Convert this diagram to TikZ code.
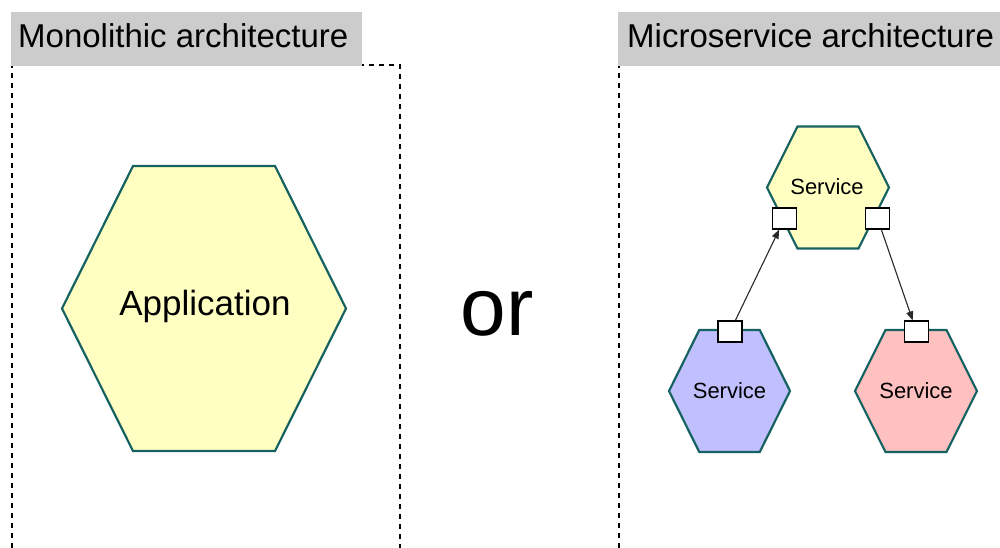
\documentclass[tikz,border=0pt]{standalone}
\usepackage{fontspec}
\setmainfont{Liberation Sans}
\usetikzlibrary{arrows.meta}

\definecolor{hexline}{RGB}{22,98,98}
\definecolor{hexyellow}{RGB}{255,255,194}
\definecolor{hexblue}{RGB}{192,192,255}
\definecolor{hexpink}{RGB}{255,192,192}
\definecolor{titlegray}{RGB}{204,204,204}
\definecolor{wire}{RGB}{40,40,40}

\tikzset{
  hexa/.style={draw=hexline, line width=2.2pt, line join=miter},
  frame/.style={draw=black, line width=1.2pt, dash pattern=on 5pt off 5pt},
  titlebox/.style={fill=titlegray, draw=none, inner sep=0pt, anchor=north west},
  titletext/.style={anchor=base west, inner sep=0pt, font=\fontsize{33}{39}\selectfont},
  svctext/.style={anchor=base, inner sep=0pt, font=\fontsize{22}{26}\selectfont},
  port/.style={draw=black, fill=white, line width=1.2pt, minimum width=24pt, minimum height=21pt, inner sep=0pt},
  link/.style={draw=wire, line width=1.1pt, -{Triangle[length=9pt,width=7pt]}}
}

% hexagon centred at (#1,#2), width #3, height #4
\newcommand{\hexpath}[4]{%
  ({#1-#3/2},#2) -- ({#1-#3/4},{#2-#4/2}) -- ({#1+#3/4},{#2-#4/2}) --
  ({#1+#3/2},#2) -- ({#1+#3/4},{#2+#4/2}) -- ({#1-#3/4},{#2+#4/2}) -- cycle}

\begin{document}
\begin{tikzpicture}[x=1pt, y=-1pt]
\useasboundingbox (0,0) rectangle (1000,548);

% ---- monolithic side ----
\draw[frame] (12,548) -- (12,65) -- (400,65) -- (400,548);
\node[titlebox, minimum width=351pt, minimum height=54pt] (monoBox) at (11,11.5) {};
\node[titletext] (monoTitle) at (18,48) {Monolithic architecture};

\draw[hexa, fill=hexyellow] \hexpath{204}{308.5}{284}{285};
\node[anchor=base, inner sep=0pt, font=\fontsize{35}{42}\selectfont] (app) at (205,315) {Application};

% ---- separator word ----
\node[anchor=base, inner sep=0pt, font=\fontsize{82}{96}\selectfont] (orWord) at (497,335) {or};

% ---- microservice side ----
\draw[frame] (619,548) -- (619,65);
\node[titlebox, minimum width=382pt, minimum height=54pt] (microBox) at (618,11.5) {};
\node[titletext] (microTitle) at (627,47.5) {Microservice architecture};

\draw[hexa, fill=hexyellow] \hexpath{828}{187.5}{122}{122};
\node[svctext] (svcTop) at (827,194) {Service};

\draw[hexa, fill=hexblue] \hexpath{729.5}{391}{121}{122};
\node[svctext] (svcLeft) at (729.5,398) {Service};

\draw[hexa, fill=hexpink] \hexpath{916}{391}{122}{122};
\node[svctext] (svcRight) at (916,398) {Service};

% ports on the services
\node[port] (topIn)   at (784.5,218.5) {};
\node[port] (topOut)  at (877.5,218.5) {};
\node[port] (leftOut) at (730,331.5) {};
\node[port] (rightIn) at (916.5,331.5) {};

% calls between services
\draw[link] (leftOut) -- (topIn);
\draw[link] (topOut) -- (rightIn);
\end{tikzpicture}
\end{document}
